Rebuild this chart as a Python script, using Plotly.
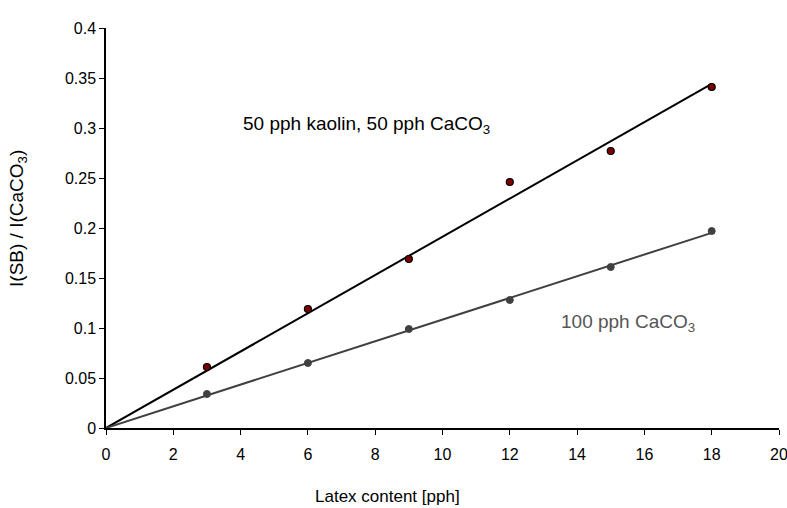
import numpy as np
import plotly.graph_objects as go

latex = [3, 6, 9, 12, 15, 18]
kaolin_caco3 = [0.061, 0.119, 0.169, 0.246, 0.277, 0.341]
caco3_100 = [0.034, 0.065, 0.099, 0.128, 0.161, 0.197]

x_ticks = [0, 2, 4, 6, 8, 10, 12, 14, 16, 18, 20]
y_ticks = [0, 0.05, 0.1, 0.15, 0.2, 0.25, 0.3, 0.35, 0.4]
y_ticktext = ["0", "0.05", "0.1", "0.15", "0.2", "0.25", "0.3", "0.35", "0.4"]

FONT = "Liberation Sans, Arial, sans-serif"

def fit_origin(x, y):
    x = np.array(x, float); y = np.array(y, float)
    k = (x * y).sum() / (x * x).sum()
    return [0, max(x)], [0, k * max(x)]

fig = go.Figure()
fx1, fy1 = fit_origin(latex, kaolin_caco3)
fx2, fy2 = fit_origin(latex, caco3_100)
fig.add_trace(go.Scatter(x=fx1, y=fy1, mode="lines", line=dict(color="black", width=2), showlegend=False))
fig.add_trace(go.Scatter(x=fx2, y=fy2, mode="lines", line=dict(color="#404040", width=2), showlegend=False))
fig.add_trace(go.Scatter(x=latex, y=kaolin_caco3, mode="markers",
                         marker=dict(color="#7a0000", size=7, line=dict(color="black", width=1.2)), showlegend=False))
fig.add_trace(go.Scatter(x=latex, y=caco3_100, mode="markers",
                         marker=dict(color="#404040", size=7, line=dict(color="#404040", width=1)), showlegend=False))

fig.add_annotation(x=7.73, y=0.303, xref="x", yref="y", text="50 pph kaolin, 50 pph CaCO<sub>3</sub>",
                   showarrow=False, font=dict(family=FONT, size=19, color="black"))
fig.add_annotation(x=15.5, y=0.105, xref="x", yref="y", text="100 pph CaCO<sub>3</sub>",
                   showarrow=False, font=dict(family=FONT, size=19, color="#555555"))
# axis titles
fig.add_annotation(x=-0.1308, y=0.525, xref="paper", yref="paper", text="I(SB) / I(CaCO<sub>3</sub>)",
                   textangle=-90, showarrow=False, xanchor="center", yanchor="middle",
                   font=dict(family=FONT, size=19, color="black"))
fig.add_annotation(x=0.419, y=-0.1725, xref="paper", yref="paper", text="Latex content [pph]",
                   showarrow=False, xanchor="center", yanchor="middle",
                   font=dict(family=FONT, size=17, color="black"))

fig.update_layout(
    width=787, height=508,
    margin=dict(l=106, r=8, t=28, b=80),
    plot_bgcolor="white", paper_bgcolor="white",
    font=dict(family=FONT, size=16, color="black"),
)
fig.update_xaxes(range=[0, 20], tickvals=x_ticks, ticks="outside", ticklen=5, tickcolor="black",
                 showline=True, linecolor="black", linewidth=1.5, showgrid=False, zeroline=False,
                 automargin=False, ticklabeloverflow="allow", ticklabelstandoff=6,
                 tickfont=dict(family=FONT, size=16))
fig.update_yaxes(range=[0, 0.4], tickvals=y_ticks, ticktext=y_ticktext, ticks="outside", ticklen=5,
                 tickcolor="black", showline=True, linecolor="black", linewidth=1.5, showgrid=False,
                 zeroline=False, automargin=False, tickfont=dict(family=FONT, size=16))

fig.write_html("out.html")
